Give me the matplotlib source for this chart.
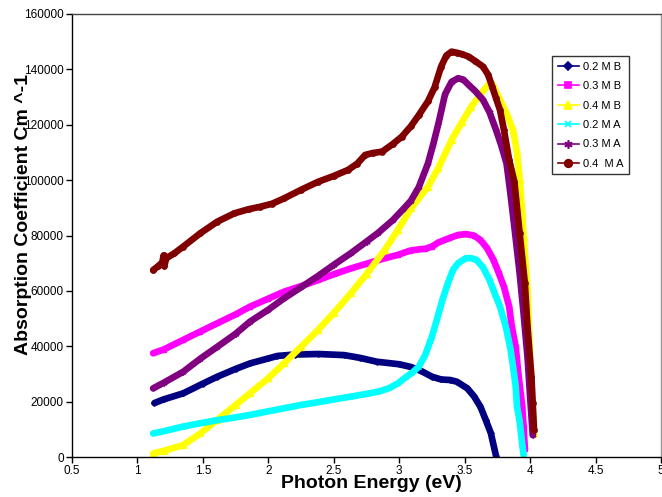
import matplotlib
matplotlib.use("Agg")
import matplotlib.pyplot as plt
from matplotlib.lines import Line2D
from matplotlib.ticker import FuncFormatter, MultipleLocator

plt.rcParams['font.family'] = ['Liberation Sans', 'DejaVu Sans']

# photon energy (eV) / absorption coefficient (cm^-1)
x_02mb = [1.13, 1.2, 1.35, 1.5, 1.61, 1.75, 1.86, 2.0, 2.07, 2.2, 2.38, 2.58, 2.7, 2.83,
          3.0, 3.09, 3.17, 3.25, 3.32, 3.39, 3.44, 3.52, 3.57, 3.62, 3.66, 3.7, 3.74]
y_02mb = [19500, 20800, 23000, 26500, 29000, 31800, 33800, 35600, 36500, 37000, 37200, 36800,
          35800, 34400, 33500, 32500, 31000, 29000, 28000, 27800, 27200, 24800, 22000, 18200,
          13500, 8600, 300]

x_03mb = [1.12, 1.2, 1.35, 1.48, 1.61, 1.75, 1.86, 2.0, 2.12, 2.25, 2.38, 2.5, 2.63, 2.75,
          2.89, 2.99, 3.08, 3.15, 3.2, 3.25, 3.3, 3.38, 3.45, 3.51, 3.57, 3.62, 3.67, 3.72,
          3.76, 3.8, 3.84, 3.86, 3.89, 3.91, 3.94, 3.95, 3.96]
y_03mb = [37500, 38800, 42300, 45300, 48300, 51500, 54300, 57200, 59700, 61700, 63900, 66000,
          68100, 69800, 71800, 73000, 74500, 75000, 75200, 76000, 77500, 79000, 80200, 80500,
          80000, 78400, 75500, 71200, 66500, 61500, 54300, 47100, 39800, 30200, 18200, 10900,
          2800]

x_04mb = [1.12, 1.2, 1.35, 1.48, 1.61, 1.75, 1.86, 2.0, 2.12, 2.25, 2.38, 2.5, 2.63, 2.75,
          2.89, 2.99, 3.09, 3.22, 3.3, 3.4, 3.48, 3.55, 3.62, 3.68, 3.71, 3.74, 3.78, 3.82,
          3.87, 3.9, 3.92, 3.94, 3.95, 3.98, 4.0, 4.02, 4.03]
y_04mb = [1300, 2200, 4300, 8500, 13400, 18800, 23000, 28500, 33800, 39800, 45900, 52000,
          59100, 66000, 74800, 82000, 89800, 97600, 104500, 114500, 121000, 126500, 131000,
          134400, 134800, 132000, 128000, 124100, 118100, 110000, 100500, 88000, 79600, 60300,
          36200, 15800, 8600]

x_02ma = [1.12, 1.2, 1.35, 1.48, 1.61, 1.75, 1.86, 2.0, 2.12, 2.25, 2.38, 2.5, 2.63, 2.75,
          2.84, 2.92, 2.99, 3.05, 3.1, 3.15, 3.2, 3.25, 3.29, 3.33, 3.37, 3.41, 3.45, 3.51,
          3.55, 3.59, 3.64, 3.69, 3.73, 3.77, 3.8, 3.82, 3.85, 3.87, 3.89, 3.9, 3.92, 3.93,
          3.95]
y_02ma = [8500, 9300, 11000, 12200, 13300, 14300, 15200, 16500, 17600, 18800, 19800, 20800,
          21800, 22800, 23600, 24800, 26600, 28800, 30500, 32600, 37000, 43500, 50000, 56700,
          62500, 67500, 70000, 71800, 71800, 71200, 68500, 63900, 59000, 54300, 49500, 45900,
          39000, 32600, 25500, 18200, 13000, 8600, 700]

x_03ma = [1.12, 1.2, 1.35, 1.48, 1.61, 1.75, 1.86, 2.0, 2.12, 2.25, 2.38, 2.5, 2.63, 2.75,
          2.84, 2.95, 3.03, 3.09, 3.15, 3.22, 3.26, 3.3, 3.35, 3.4, 3.45, 3.49, 3.53, 3.58,
          3.64, 3.69, 3.74, 3.78, 3.82, 3.85, 3.88, 3.92, 3.95, 3.98, 4.0, 4.02]
y_03ma = [24800, 26800, 30800, 35500, 39800, 44500, 48900, 53200, 57300, 61300, 65400, 69400,
          73600, 77800, 81000, 85500, 89500, 92600, 97500, 106100, 113000, 120500, 131000,
          135500, 136800, 136300, 134400, 132200, 129000, 124500, 118100, 112500, 106000,
          95000, 83000, 66400, 51900, 36200, 21800, 7900]

x_04ma = [1.12, 1.16, 1.19, 1.2, 1.205, 1.22, 1.28, 1.35, 1.48, 1.61, 1.74, 1.85, 1.94, 2.03,
          2.12, 2.25, 2.38, 2.5, 2.61, 2.68, 2.74, 2.8, 2.87, 2.95, 3.02, 3.09, 3.15, 3.22,
          3.27, 3.32, 3.36, 3.4, 3.44, 3.48, 3.53, 3.58, 3.64, 3.68, 3.71, 3.74, 3.77, 3.8,
          3.84, 3.88, 3.92, 3.96, 3.98, 4.01, 4.02, 4.03]
y_04ma = [67500, 69000, 70300, 72800, 69000, 71800, 73500, 76000, 80800, 85000, 88000, 89500,
          90400, 91500, 93400, 96500, 99400, 101500, 103700, 106000, 109100, 109800, 110300,
          113000, 115700, 119500, 123500, 128500, 133500, 141000, 145000, 146400, 146000,
          145500, 144600, 143000, 141000, 138000, 133800, 129500, 125300, 118100, 107300,
          99400, 80800, 62700, 47100, 29000, 19400, 9800]

labels = ['0.2 M B', '0.3 M B', '0.4 M B', '0.2 M A', '0.3 M A', '0.4  M A']
xs = [x_02mb, x_03mb, x_04mb, x_02ma, x_03ma, x_04ma]
ys = [y_02mb, y_03mb, y_04mb, y_02ma, y_03ma, y_04ma]
colors = ['#000080', '#FF00FF', '#FFFF00', '#00FFFF', '#800080', '#800000']
markers = ['D', 's', '^', 'x', (6, 2, 0), 'o']
msizes = [4, 5, 5.5, 5, 6, 5.5]

fig = plt.figure(figsize=(6.62, 4.97), dpi=100)
ax = fig.add_axes([72 / 662, 40 / 497, 589 / 662, 443 / 497])

handles = []
for x, y, c, m, ms, lab in zip(xs, ys, colors, markers, msizes, labels):
    ax.plot(x, y, color=c, lw=4.8, solid_capstyle='round', solid_joinstyle='round',
            marker=m, markersize=ms * 0.7, markeredgecolor=c, markerfacecolor=c,
            markeredgewidth=1)
    handles.append(Line2D([], [], color=c, lw=1.2, marker=m, markersize=ms,
                          markeredgecolor=c, markerfacecolor=c, markeredgewidth=1.2))

ax.set_xlim(0.5, 5)
ax.set_ylim(0, 160000)
ax.xaxis.set_major_locator(MultipleLocator(0.5))
ax.yaxis.set_major_locator(MultipleLocator(20000))
ax.xaxis.set_major_formatter(FuncFormatter(lambda v, p: '%g' % v))
ax.yaxis.set_major_formatter(FuncFormatter(lambda v, p: '%d' % v))
ax.tick_params(axis='both', direction='out', length=4, width=1, labelsize=8.5, pad=2)

for s in ['left', 'bottom']:
    ax.spines[s].set_color('black')
    ax.spines[s].set_linewidth(1)
ax.spines['top'].set_color('#444444')
ax.spines['top'].set_linewidth(1)
ax.spines['right'].set_color('#999999')
ax.spines['right'].set_linewidth(1)

ax.set_xlabel('Photon Energy (eV)', fontsize=14, fontweight='bold')
ax.xaxis.set_label_coords(0.509, -0.059)
ax.xaxis.label.set_va('center')
ax.set_ylabel('Absorption Coefficient Cm ^-1', fontsize=14, fontweight='bold')
ax.yaxis.set_label_coords(-0.083, 0.548)
ax.yaxis.label.set_va('center')

leg = ax.legend(handles, labels, loc='upper left', bbox_to_anchor=(0.815, 0.905),
                borderaxespad=0, fontsize=8, frameon=True, fancybox=False,
                handlelength=1.9, handletextpad=0.35, labelspacing=0.85, borderpad=0.5)
leg.get_frame().set_edgecolor('black')
leg.get_frame().set_linewidth(1)

fig.savefig('out.png', dpi=100)
